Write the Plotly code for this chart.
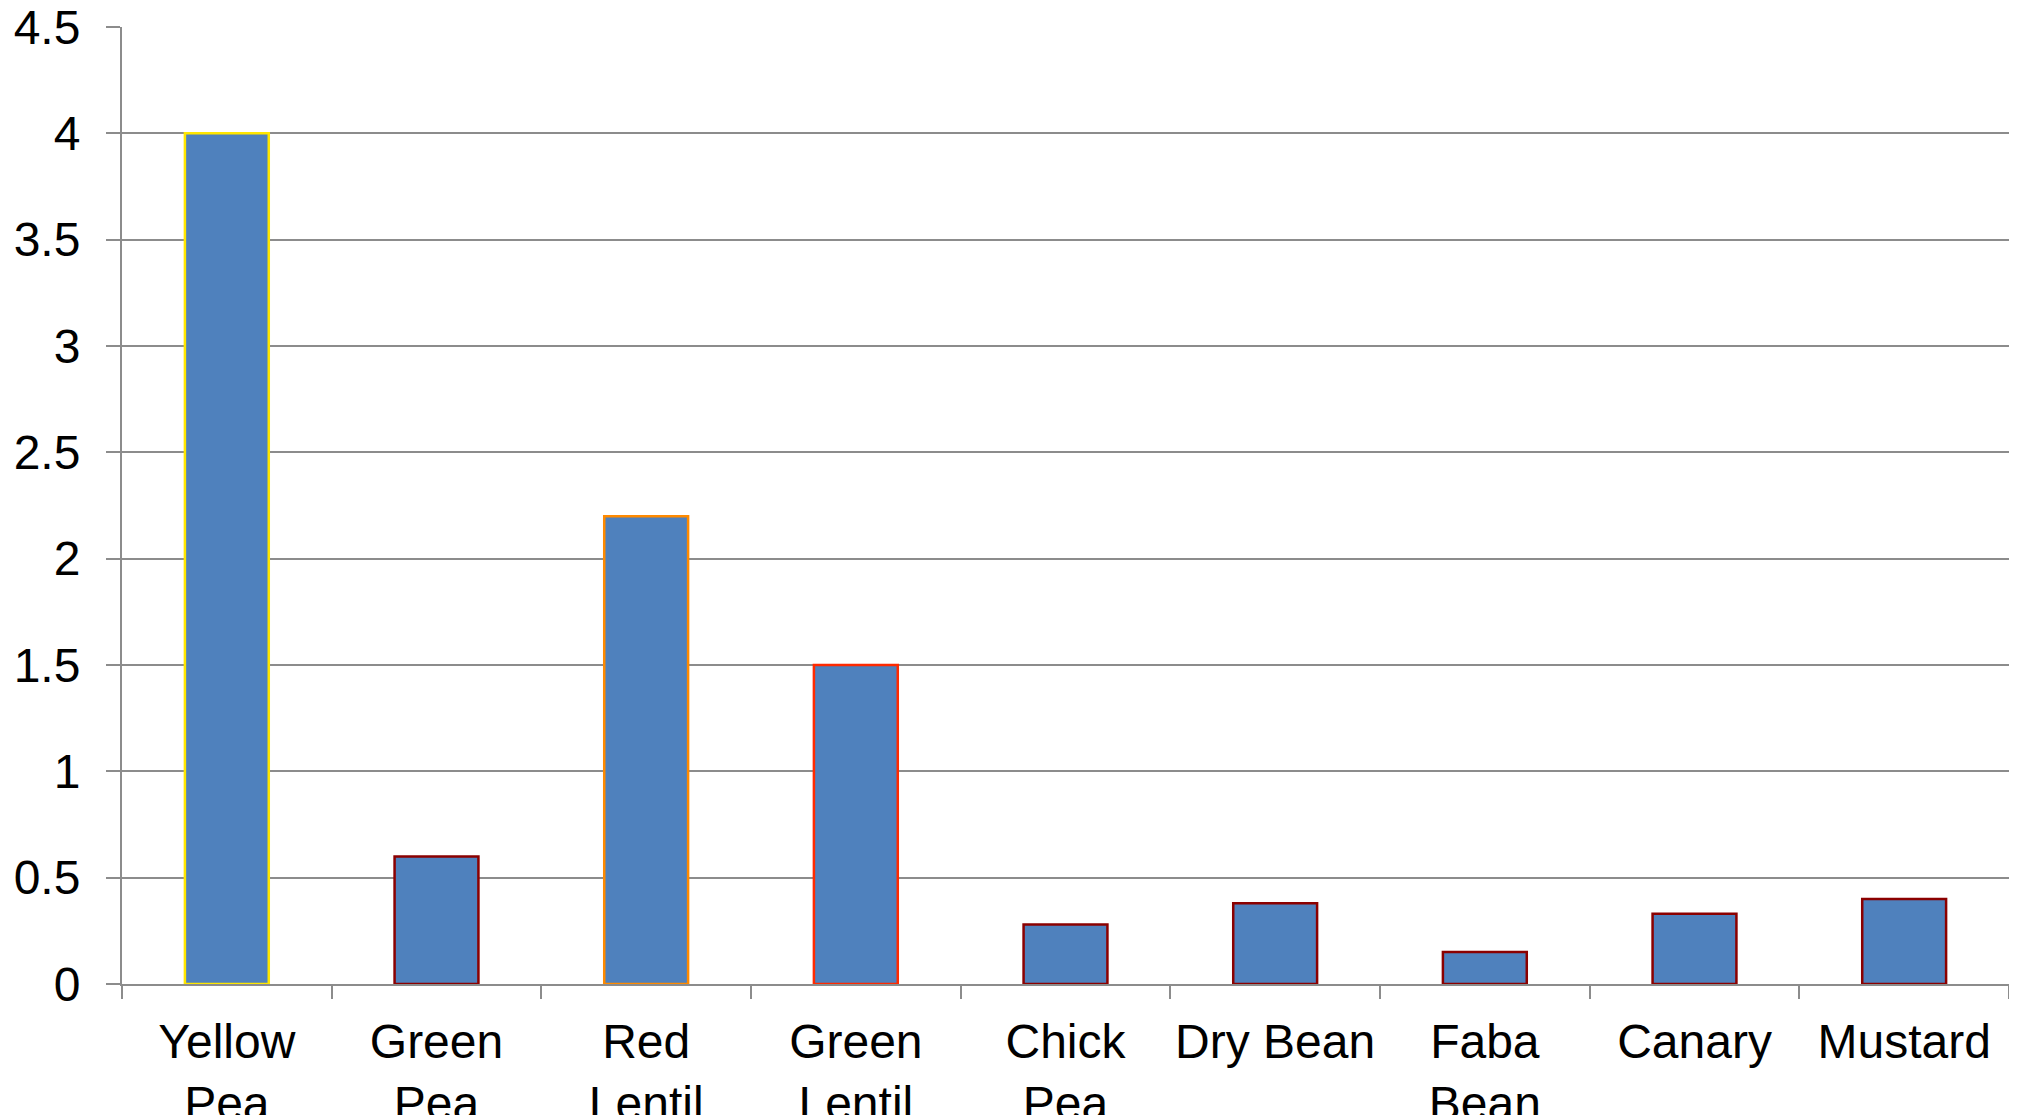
import plotly.graph_objects as go

categories = ["Yellow<br>Pea", "Green<br>Pea", "Red<br>Lentil", "Green<br>Lentil", "Chick<br>Pea",
              "Dry Bean", "Faba<br>Bean", "Canary", "Mustard"]
values = [4.0, 0.6, 2.2, 1.5, 0.28, 0.38, 0.15, 0.33, 0.40]
edge_colors = ["#FFE600", "#8B0000", "#FF8A00", "#FF2A00", "#8B0000",
               "#8B0000", "#8B0000", "#8B0000", "#8B0000"]
y_ticks = [0, 0.5, 1, 1.5, 2, 2.5, 3, 3.5, 4, 4.5]
y_tick_labels = ["0", "0.5", "1", "1.5", "2", "2.5", "3", "3.5", "4", "4.5"]

FONT = "Liberation Sans, Arial, sans-serif"
GRID = "#8C8C8C"

fig = go.Figure(go.Bar(
    x=categories, y=values,
    marker=dict(color="#4F81BD", line=dict(color=edge_colors, width=2.5)),
))

fig.update_layout(
    width=2009, height=1107,
    margin=dict(l=114, r=8, t=19, b=131),
    paper_bgcolor="white", plot_bgcolor="white",
    bargap=0.6, showlegend=False,
    font=dict(family=FONT, size=48, color="black"),
)
fig.update_xaxes(
    automargin=False, tickangle=0, ticklabeloverflow="allow",
    showline=True, linecolor=GRID, linewidth=2,
    ticks="outside", tickson="boundaries", ticklen=13, tickcolor=GRID, tickwidth=2,
    showgrid=False, tickfont=dict(size=48, family=FONT),
    ticklabelstandoff=14,
)
fig.update_yaxes(
    automargin=False, ticklabeloverflow="allow",
    range=[0, 4.5], tickvals=y_ticks, ticktext=y_tick_labels,
    showline=True, linecolor=GRID, linewidth=2,
    ticks="outside", ticklen=14, tickcolor=GRID, tickwidth=2,
    showgrid=True, gridcolor=GRID, gridwidth=2, zeroline=False,
    tickfont=dict(size=48, family=FONT), ticklabelstandoff=16,
)

fig.write_html("out.html")
